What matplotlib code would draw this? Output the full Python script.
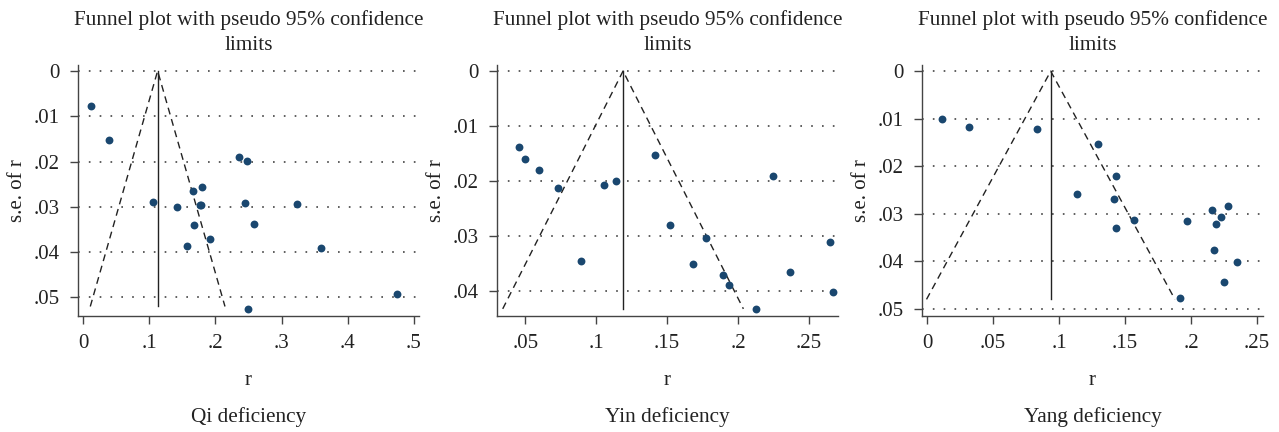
import numpy as np
import matplotlib.pyplot as plt
from matplotlib.ticker import FuncFormatter

plt.rcParams['font.family'] = ['Liberation Serif', 'DejaVu Serif']

# Qi deficiency
qi_r = [0.012, 0.039, 0.236, 0.248, 0.166, 0.180, 0.106, 0.142, 0.1775, 0.176,
        0.245, 0.324, 0.167, 0.259, 0.191, 0.157, 0.360, 0.475, 0.250]
qi_se = [0.0078, 0.0152, 0.0189, 0.0198, 0.0264, 0.0256, 0.0290, 0.0300, 0.0297, 0.0296,
         0.0291, 0.0294, 0.0341, 0.0337, 0.0372, 0.0386, 0.0392, 0.0493, 0.0526]
qi_pooled, qi_semax = 0.1125, 0.052

# Yin deficiency
yin_r = [0.0453, 0.0495, 0.0594, 0.0733, 0.0895, 0.1052, 0.1139, 0.1414, 0.1520,
         0.1771, 0.1680, 0.1891, 0.1938, 0.2129, 0.2249, 0.2368, 0.2648, 0.2669]
yin_se = [0.0139, 0.0160, 0.0181, 0.0213, 0.0346, 0.0207, 0.0200, 0.0153, 0.0280,
          0.0304, 0.0351, 0.0372, 0.0390, 0.0434, 0.0191, 0.0366, 0.0312, 0.0403]
yin_pooled, yin_semax = 0.1189, 0.0433

# Yang deficiency
yang_r = [0.0111, 0.0316, 0.0831, 0.1298, 0.1429, 0.1139, 0.1417, 0.1429, 0.1568,
          0.1917, 0.1967, 0.2157, 0.2283, 0.2227, 0.2189, 0.2174, 0.2346, 0.2247]
yang_se = [0.0100, 0.0117, 0.0122, 0.0154, 0.0221, 0.0259, 0.0268, 0.0329, 0.0314,
           0.0477, 0.0316, 0.0291, 0.0283, 0.0307, 0.0322, 0.0377, 0.0402, 0.0443]
yang_pooled, yang_semax = 0.0937, 0.048

panels = [
    ('Qi deficiency', qi_r, qi_se, qi_pooled, qi_semax,
     [0, 0.1, 0.2, 0.3, 0.4, 0.5], [0, 0.01, 0.02, 0.03, 0.04, 0.05],
     (-0.008, 0.508), (0.0541, -0.0013), [78, 419]),
    ('Yin deficiency', yin_r, yin_se, yin_pooled, yin_semax,
     [0.05, 0.1, 0.15, 0.2, 0.25], [0, 0.01, 0.02, 0.03, 0.04],
     (0.030, 0.2705), (0.0446, -0.0011), [497, 838]),
    ('Yang deficiency', yang_r, yang_se, yang_pooled, yang_semax,
     [0, 0.05, 0.1, 0.15, 0.2, 0.25], [0, 0.01, 0.02, 0.03, 0.04, 0.05],
     (-0.0038, 0.2545), (0.0515, -0.0013), [922, 1263]),
]

W, H = 1279, 432
fig = plt.figure(figsize=(W / 100, H / 100), dpi=100)


def fmt(v, pos):
    s = ('%.2f' % v).rstrip('0').rstrip('.')
    if s.startswith('0.'):
        s = s[1:]
    return s


navy = '#1a476f'
txt = '#222222'
for name, r, se, pooled, semax, xt, yt, xl, yl, (x0, x1) in panels:
    top, bot = 65, 316
    ax = fig.add_axes([x0 / W, 1 - bot / H, (x1 - x0) / W, (bot - top) / H])
    ax.set_xlim(*xl)
    ax.set_ylim(*yl)
    for y in yt:
        ax.axhline(y, color='#444444', lw=1.2, ls=(0, (1, 5.5)), zorder=0)
    ax.plot([pooled - 1.96 * semax, pooled, pooled + 1.96 * semax],
            [semax, 0, semax], color='#222222', lw=1.0, ls=(0, (5, 3.5)))
    ax.plot([pooled, pooled], [0, semax], color='#222222', lw=1.0)
    ax.scatter(r, se, s=32, color=navy, zorder=3, linewidths=0)
    ax.set_xticks(xt)
    ax.set_yticks(yt)
    ax.xaxis.set_major_formatter(FuncFormatter(fmt))
    ax.yaxis.set_major_formatter(FuncFormatter(fmt))
    for s in ['top', 'right']:
        ax.spines[s].set_visible(False)
    for s in ['left', 'bottom']:
        ax.spines[s].set_color('#444444')
        ax.spines[s].set_linewidth(1.0)
    ax.tick_params(colors='#444444', labelcolor=txt, labelsize=15, length=6, width=1.0, pad=7)
    ax.set_ylabel('s.e. of r', fontsize=15, color=txt, labelpad=5)
    ax.set_xlabel('r', fontsize=15, color=txt, labelpad=13)
    ax.set_title('Funnel plot with pseudo 95% confidence\nlimits', fontsize=15.3,
                 color=txt, pad=11, linespacing=1.4)
    fig.text((x0 + x1) / 2 / W, 1 - 417 / H, name, ha='center', va='center',
             fontsize=15.3, color=txt)

fig.savefig('out.png', dpi=100)
